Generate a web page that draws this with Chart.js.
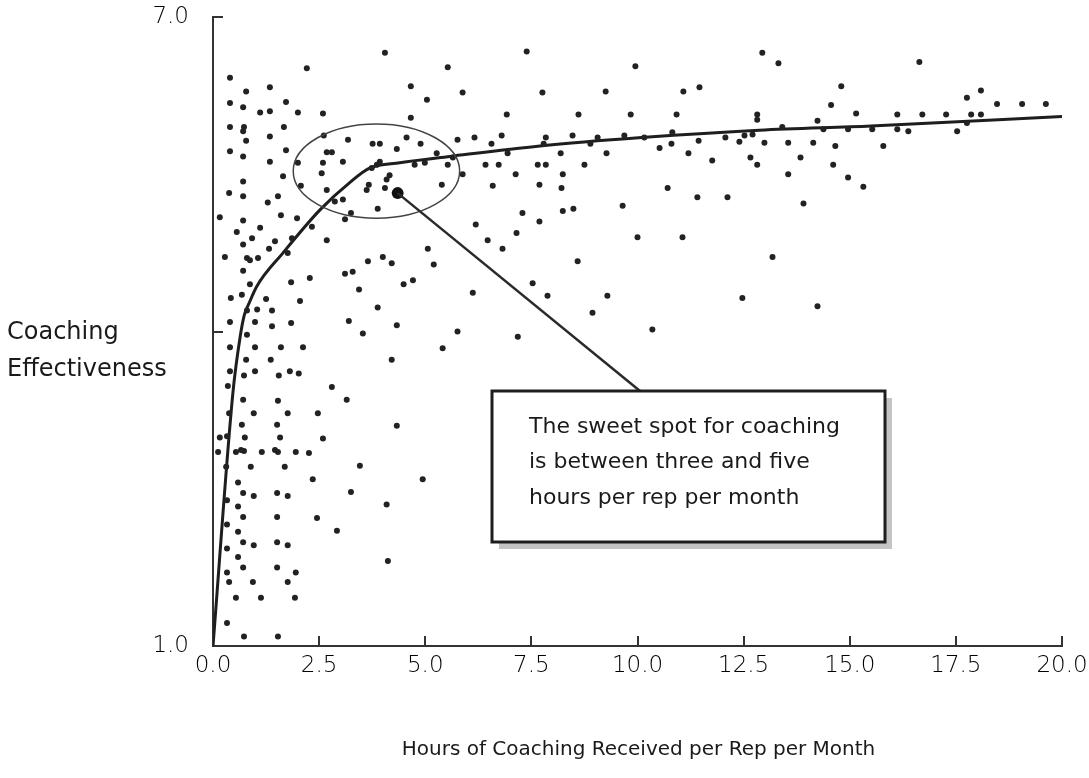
<!DOCTYPE html>
<html><head><meta charset="utf-8">
<script src="https://cdn.jsdelivr.net/npm/chart.js@4.4.1/dist/chart.umd.min.js"></script>
<style>html,body{margin:0;padding:0;background:#fff;}#wrap{width:1089px;height:778px;}</style>
</head><body><div id="wrap"><canvas id="c" width="1089" height="778"></canvas></div>
<script>
// ---- data ----
const pointHours = [
2.21,0.40,0.78,1.34,0.40,0.71,1.11,1.34,1.72,2.00,
0.40,0.73,0.71,0.78,1.34,1.67,0.40,0.71,1.34,1.72,
2.00,1.65,0.71,2.07,0.38,0.71,1.29,1.53,0.16,0.71,
1.60,1.98,0.56,1.11,0.92,0.71,1.46,1.86,1.32,0.28,
0.80,0.87,1.06,1.76,2.33,
0.71,0.87,1.84,2.28,0.42,0.68,1.25,2.05,0.80,1.04,
1.39,0.40,0.99,1.39,1.84,0.80,0.40,0.99,1.60,2.12,
0.78,1.36,0.40,0.73,0.99,1.55,1.81,2.02,0.35,0.71,
1.53,0.38,0.96,1.76,0.68,1.51,0.33,0.16,0.75,1.58,
2.80,3.15,2.47,4.33,2.59,0.12,0.54,0.66,0.73,1.15,
1.46,1.53,1.95,2.26,0.31,0.89,1.69,3.46,2.35,4.94,
0.59,0.71,0.96,1.51,1.76,3.25,0.33,0.59,0.71,1.51,
2.45,4.09,0.33,0.59,2.92,0.71,0.96,1.51,1.76,0.33,
0.59,0.71,1.51,4.12,1.95,0.33,0.38,0.94,1.76,0.54,
1.13,1.93,0.33,0.73,1.53,
4.05,5.53,4.66,5.04,2.59,4.66,2.61,3.18,3.76,3.93,
4.33,4.56,4.89,2.68,2.80,2.59,3.06,2.56,3.74,3.86,
3.93,4.75,4.99,5.27,5.53,2.68,3.67,3.62,4.16,4.09,
4.05,5.39,2.87,3.06,3.25,3.88,3.11,2.68,5.06,5.20,
3.65,4.00,4.21,3.11,3.29,3.44,4.49,4.71,3.88,3.20,
4.33,3.53,5.41,4.21,
7.39,9.95,5.88,7.76,9.25,11.08,11.46,6.92,8.61,9.84,
10.92,12.82,12.82,5.76,6.16,6.80,6.56,7.84,7.79,8.47,
9.06,8.89,9.69,10.16,10.82,10.80,10.52,11.44,12.07,12.40,
12.52,12.71,5.65,6.94,8.19,9.27,11.20,11.76,12.66,12.82,
6.42,6.73,7.65,7.84,8.75,5.88,7.13,8.24,6.59,7.69,
8.21,10.71,11.41,12.12,9.65,7.29,8.24,8.49,6.19,7.69,
7.15,10.00,11.06,6.47,6.82,8.59,7.53,6.12,7.88,9.29,
8.94,12.47,5.76,7.18,10.35,
12.94,13.32,16.64,14.80,18.09,17.76,14.56,18.47,19.06,19.62,
15.15,14.24,16.12,16.71,17.27,17.86,18.09,13.41,14.38,14.96,
15.53,16.12,16.38,17.53,17.76,12.99,13.55,14.14,14.66,15.79,
13.84,14.61,13.55,14.96,15.32,13.91,13.18,14.24
];
const pointEffect = [
6.51,6.42,6.29,6.33,6.18,6.14,6.09,6.10,6.19,6.09,
5.95,5.95,5.91,5.82,5.86,5.95,5.72,5.67,5.62,5.73,
5.61,5.48,5.43,5.39,5.32,5.29,5.23,5.29,5.09,5.06,
5.11,5.08,4.95,4.99,4.89,4.83,4.86,4.89,4.79,4.71,
4.70,4.68,4.70,4.75,5.00,
4.58,4.45,4.47,4.51,4.32,4.35,4.31,4.29,4.20,4.21,
4.20,4.09,4.09,4.05,4.08,3.97,3.85,3.85,3.85,3.85,
3.73,3.73,3.62,3.58,3.62,3.58,3.62,3.60,3.48,3.35,
3.34,3.22,3.22,3.22,3.11,3.11,3.00,2.99,2.99,2.99,
3.47,3.35,3.22,3.10,2.98,2.85,2.85,2.87,2.86,2.85,
2.87,2.85,2.85,2.84,2.71,2.71,2.71,2.72,2.59,2.59,
2.56,2.46,2.43,2.46,2.43,2.47,2.39,2.33,2.23,2.23,
2.22,2.35,2.16,2.09,2.10,1.99,1.96,1.99,1.96,1.93,
1.85,1.75,1.75,1.81,1.70,1.70,1.61,1.61,1.61,1.46,
1.46,1.46,1.22,1.09,1.09,
6.66,6.52,6.34,6.21,6.08,6.04,5.87,5.83,5.79,5.79,
5.74,5.85,5.79,5.71,5.71,5.61,5.62,5.51,5.56,5.59,
5.62,5.59,5.61,5.70,5.59,5.35,5.40,5.35,5.49,5.45,
5.37,5.40,5.24,5.26,5.13,5.17,5.07,4.87,4.79,4.64,
4.67,4.71,4.65,4.55,4.57,4.40,4.45,4.49,4.23,4.10,
4.06,3.98,3.84,3.73,
6.67,6.53,6.28,6.28,6.29,6.29,6.33,6.07,6.07,6.07,
6.07,6.07,6.02,5.83,5.85,5.87,5.79,5.85,5.79,5.87,
5.85,5.79,5.87,5.85,5.90,5.79,5.75,5.82,5.85,5.81,
5.87,5.88,5.66,5.70,5.70,5.70,5.70,5.63,5.66,5.59,
5.59,5.59,5.59,5.59,5.59,5.50,5.50,5.50,5.39,5.40,
5.37,5.37,5.28,5.28,5.20,5.13,5.15,5.17,5.02,5.05,
4.94,4.90,4.90,4.87,4.79,4.67,4.46,4.37,4.34,4.34,
4.18,4.32,4.00,3.95,4.02,
6.66,6.56,6.57,6.34,6.30,6.23,6.16,6.17,6.17,6.17,
6.08,6.01,6.07,6.07,6.07,6.07,6.07,5.95,5.93,5.93,
5.93,5.93,5.91,5.91,5.99,5.80,5.80,5.80,5.77,5.77,
5.66,5.59,5.50,5.47,5.38,5.22,4.71,4.24
];
const trendHours  = [0, 0.47, 0.64, 0.74, 0.85, 1.03, 1.65, 2.52, 3.22, 3.70, 4.40, 5.58, 7.70, 10.10, 12.87, 15.50, 20.00];
const trendEffect = [1.0, 3.42, 3.95, 4.16, 4.27, 4.43, 4.75, 5.16, 5.42, 5.56, 5.61, 5.67, 5.77, 5.85, 5.92, 5.96, 6.05];
const highlightHours = [4.35];
const highlightEffect = [5.32];
const sweetSpotCenter = [3.85, 5.53];   // hours, effectiveness
const sweetSpotRadius = [1.96, 0.45];   // hours, effectiveness
const xTickValues = [0, 2.5, 5, 7.5, 10, 12.5, 15, 17.5, 20];
const yTickValues = [1, 4, 7];
const yTickLabels = ['1.0', '', '7.0'];
const xAxisTitle = 'Hours of Coaching Received per Rep per Month';
const yAxisTitle = ['Coaching', 'Effectiveness'];
const calloutLines = ['The sweet spot for coaching', 'is between three and five', 'hours per rep per month'];

// ---- chart ----
const INK = '#222';
const TICK_FONT = {family: "'DejaVu Sans'", size: 23, weight: '200'};

const decor = {
  id: 'decor',
  afterDatasetsDraw(chart) {
    const {ctx, chartArea: ca, scales: {x, y}} = chart;
    ctx.save();
    // sweet-spot ellipse
    const cx = x.getPixelForValue(sweetSpotCenter[0]);
    const cy = y.getPixelForValue(sweetSpotCenter[1]);
    const rx = x.getPixelForValue(sweetSpotCenter[0] + sweetSpotRadius[0]) - cx;
    const ry = cy - y.getPixelForValue(sweetSpotCenter[1] + sweetSpotRadius[1]);
    ctx.beginPath();
    ctx.ellipse(cx, cy, rx, ry, 0, 0, Math.PI * 2);
    ctx.strokeStyle = '#444'; ctx.lineWidth = 1.5; ctx.stroke();

    // callout box
    const bx = ca.left + 279, by = ca.top + 374, bw = 393, bh = 151;
    const hx = x.getPixelForValue(highlightHours[0]);
    const hy = y.getPixelForValue(highlightEffect[0]);
    ctx.beginPath();
    ctx.moveTo(hx, hy); ctx.lineTo(bx + 148, by);
    ctx.strokeStyle = '#2a2a2a'; ctx.lineWidth = 2.5; ctx.stroke();
    ctx.fillStyle = '#c4c4c4';
    ctx.fillRect(bx + 7, by + 7, bw, bh);
    ctx.fillStyle = '#fff';
    ctx.fillRect(bx, by, bw, bh);
    ctx.strokeStyle = '#1e1e1e'; ctx.lineWidth = 3;
    ctx.strokeRect(bx, by, bw, bh);
    ctx.fillStyle = '#1a1a1a';
    ctx.font = "22px 'DejaVu Sans'";
    ctx.textBaseline = 'middle'; ctx.textAlign = 'left';
    calloutLines.forEach((t, i) => ctx.fillText(t, bx + 37, by + 36 + i * 35.5));
    ctx.restore();
  },
  afterDraw(chart) {
    const {ctx, chartArea: ca, scales: {x, y}} = chart;
    ctx.save();
    ctx.strokeStyle = '#333'; ctx.lineWidth = 2;
    x.ticks.forEach(t => {
      if (t.value === x.min) return;
      const px = Math.round(x.getPixelForValue(t.value));
      ctx.beginPath(); ctx.moveTo(px, ca.bottom); ctx.lineTo(px, ca.bottom - 10); ctx.stroke();
    });
    y.ticks.forEach(t => {
      if (t.value === y.min) return;
      const py = Math.round(y.getPixelForValue(t.value));
      ctx.beginPath(); ctx.moveTo(ca.left, py); ctx.lineTo(ca.left + 10, py); ctx.stroke();
    });
    // axis titles
    ctx.fillStyle = '#1a1a1a';
    ctx.textBaseline = 'middle';
    ctx.font = "24px 'DejaVu Sans'";
    ctx.textAlign = 'left';
    const mid = y.getPixelForValue(4);
    ctx.fillText(yAxisTitle[0], 7, mid + 1);
    ctx.fillText(yAxisTitle[1], 7, mid + 38);
    ctx.font = "20px 'DejaVu Sans'";
    ctx.textAlign = 'center';
    ctx.fillText(xAxisTitle, (ca.left + ca.right) / 2 + 1, ca.bottom + 104);
    ctx.restore();
  }
};

new Chart(document.getElementById('c'), {
  type: 'scatter',
  data: {
    datasets: [
      {
        label: 'Reps',
        data: pointHours.map((h, i) => ({x: h, y: pointEffect[i]})),
        pointStyle: 'circle', pointRadius: 3, pointHoverRadius: 3,
        backgroundColor: INK, borderColor: INK, borderWidth: 0
      },
      {
        label: 'Trend',
        type: 'line',
        data: trendHours.map((h, i) => ({x: h, y: trendEffect[i]})),
        showLine: true, pointRadius: 0, borderColor: '#1e1e1e', borderWidth: 3,
        cubicInterpolationMode: 'monotone', fill: false
      },
      {
        label: 'Sweet spot',
        data: highlightHours.map((h, i) => ({x: h, y: highlightEffect[i]})),
        pointStyle: 'circle', pointRadius: 6, backgroundColor: '#111', borderWidth: 0
      }
    ]
  },
  options: {
    responsive: false, animation: false, events: [],
    layout: {padding: {top: 17, right: 27, left: 0, bottom: 0}},
    plugins: {legend: {display: false}, tooltip: {enabled: false}},
    scales: {
      x: {
        type: 'linear', min: 0, max: 20,
        afterBuildTicks: s => { s.ticks = xTickValues.map(v => ({value: v})); },
        afterFit: s => { s.height = 132; s.paddingLeft = 0; s.paddingRight = 0; },
        ticks: {callback: v => Number(v).toFixed(1), font: TICK_FONT, color: '#000', padding: 6, maxRotation: 0, autoSkip: false},
        grid: {drawOnChartArea: false, drawTicks: false},
        border: {display: true, color: '#333', width: 2}
      },
      y: {
        type: 'linear', min: 1, max: 7,
        afterBuildTicks: s => { s.ticks = yTickValues.map(v => ({value: v})); },
        afterFit: s => { s.width = 213; s.paddingTop = 0; s.paddingBottom = 0; },
        ticks: {callback: (v, i) => yTickLabels[i], font: TICK_FONT, color: '#000', padding: 24, autoSkip: false},
        grid: {drawOnChartArea: false, drawTicks: false},
        border: {display: true, color: '#333', width: 2}
      }
    }
  },
  plugins: [decor]
});
</script>
</body></html>
